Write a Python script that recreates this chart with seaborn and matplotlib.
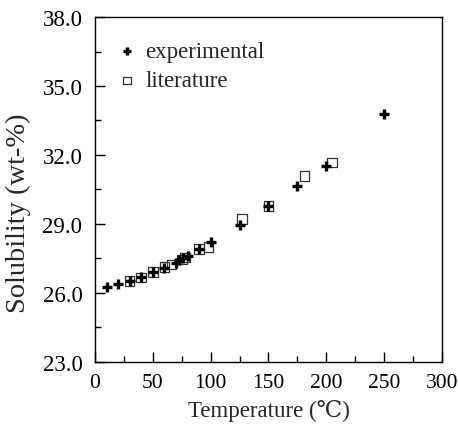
import pandas as pd
import seaborn as sns
import matplotlib.pyplot as plt
from matplotlib.ticker import MultipleLocator, FormatStrFormatter

# --- Data ---
exp_temp = [10, 20, 30, 40, 50, 60, 70, 73, 76, 80, 90, 100, 125, 150, 175, 200, 250]
exp_sol = [26.28, 26.38, 26.5, 26.68, 26.9, 27.08, 27.3, 27.45, 27.52, 27.62, 27.9, 28.22,
           28.97, 29.78, 30.65, 31.5, 33.78]

lit_temp = [30, 40, 50, 60, 66, 75, 78, 90, 98, 127, 150, 181, 205]
lit_sol = [26.52, 26.68, 26.9, 27.12, 27.23, 27.45, 27.55, 27.92, 28.0, 29.22, 29.78, 31.08, 31.68]

exp_df = pd.DataFrame({"T": exp_temp, "S": exp_sol})
lit_df = pd.DataFrame({"T": lit_temp, "S": lit_sol})

sns.set_style("ticks")
plt.rcParams['font.family'] = ['Liberation Serif', 'DejaVu Serif', 'DejaVu Sans', 'Noto Sans CJK SC']

fig = plt.figure(figsize=(4.58, 4.27), dpi=100)
ax = fig.add_axes([0.2074, 0.15, 0.7576, 0.8078])

sns.scatterplot(data=exp_df, x="T", y="S", ax=ax, marker="+", s=55, color="black",
                linewidth=2.4, label="experimental", zorder=3)
sns.scatterplot(data=lit_df, x="T", y="S", ax=ax, marker="s", s=48, facecolor="none",
                edgecolor="#333333", linewidth=0.9, label="literature", zorder=2)

ax.set_xlim(0, 300)
ax.set_ylim(23.0, 38.0)
ax.xaxis.set_major_locator(MultipleLocator(50))
ax.xaxis.set_minor_locator(MultipleLocator(25))
ax.yaxis.set_major_locator(MultipleLocator(3.0, offset=2.0))
ax.yaxis.set_minor_locator(MultipleLocator(1.5, offset=0.5))
ax.yaxis.set_major_formatter(FormatStrFormatter('%.1f'))
ax.tick_params(which="both", direction="in", top=False, right=False, colors="black")
ax.tick_params(axis="x", labelsize=15.5, pad=8)
ax.tick_params(axis="y", labelsize=16.5, pad=9)
ax.tick_params(which="major", length=7, width=1)
ax.tick_params(which="minor", length=4, width=1)
for sp in ax.spines.values():
    sp.set_visible(True)
    sp.set_color("black")
    sp.set_linewidth(1)

ax.set_xlabel("Temperature (℃)", fontsize=16.5, labelpad=5)
ax.set_ylabel("Solubility (wt-%)", fontsize=20.5)
ax.yaxis.set_label_coords(-0.185, 0.435)

ax.legend(loc="upper left", bbox_to_anchor=(0.0, 0.99), frameon=False, fontsize=16.5,
          handletextpad=0.3, labelspacing=0.35, handlelength=1.0, markerscale=0.75)

fig.savefig("out.png", dpi=100)
